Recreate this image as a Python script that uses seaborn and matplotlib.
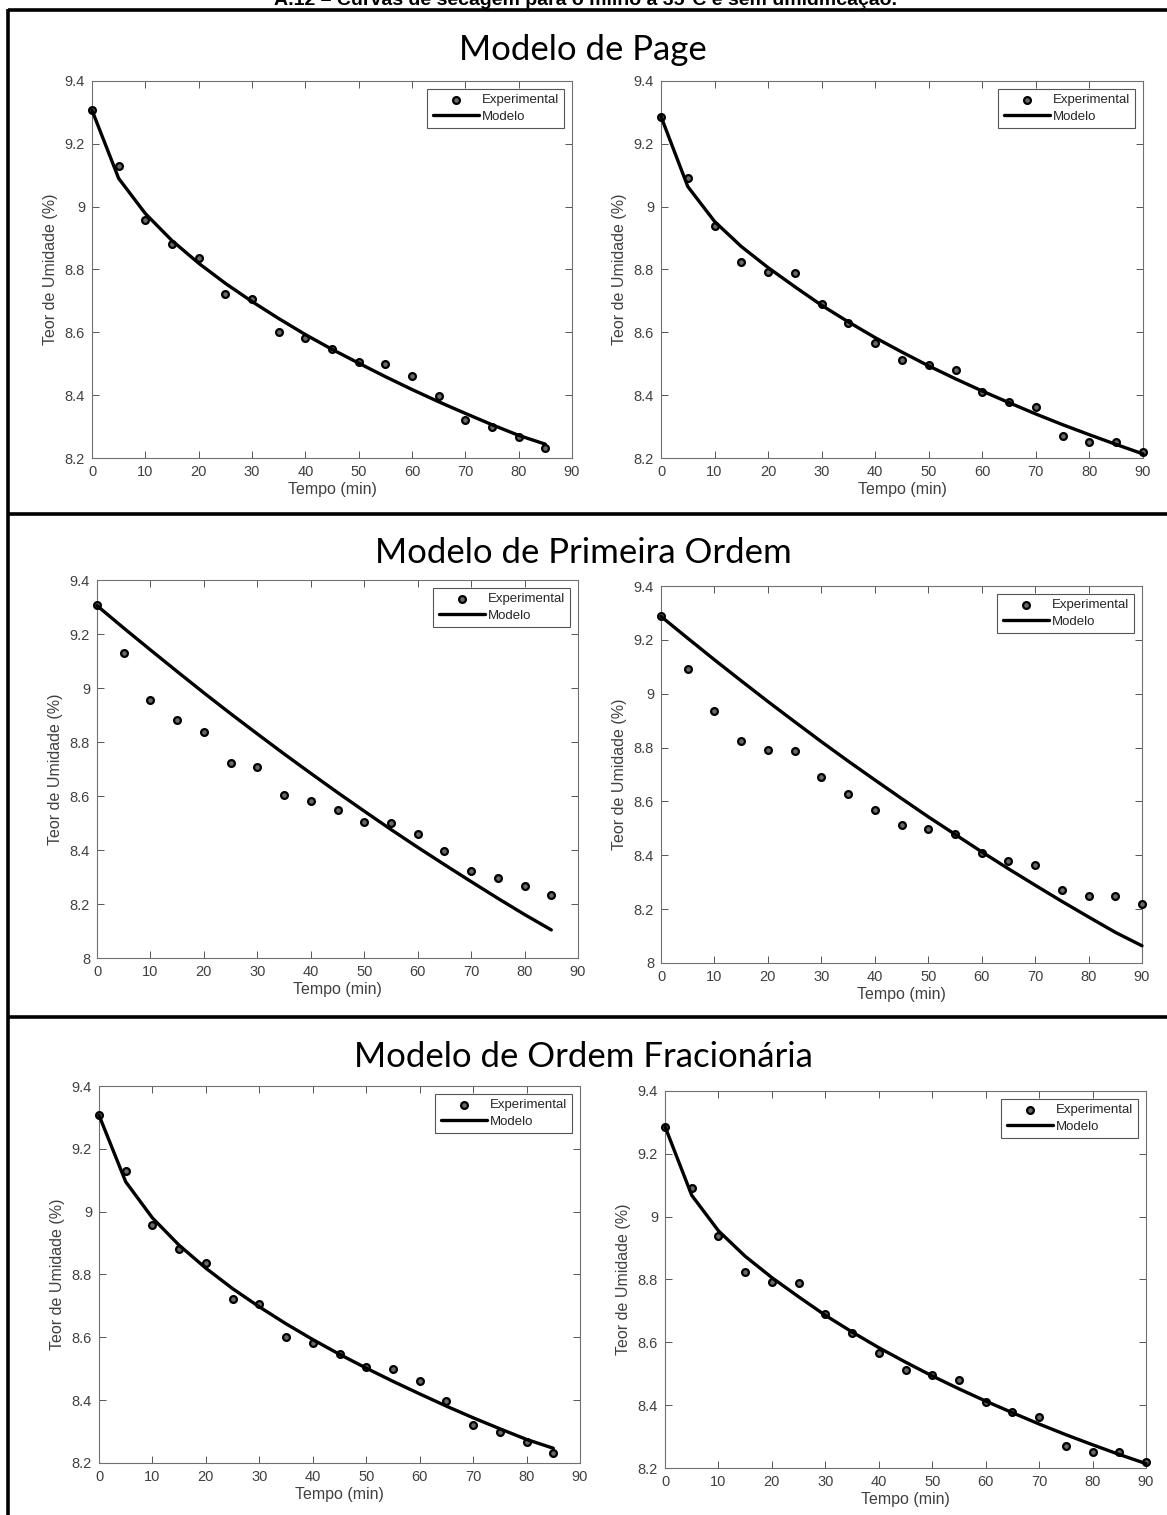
import numpy as np
import pandas as pd
import matplotlib
matplotlib.use("Agg")
import matplotlib.pyplot as plt
from matplotlib.lines import Line2D
from matplotlib.ticker import FuncFormatter
import seaborn as sns

# ---------------- data ----------------
tempo_esq = [0, 5, 10, 15, 20, 25, 30, 35, 40, 45, 50, 55, 60, 65, 70, 75, 80, 85]
tempo_dir = [0, 5, 10, 15, 20, 25, 30, 35, 40, 45, 50, 55, 60, 65, 70, 75, 80, 85, 90]

exp_esq = [9.307, 9.129, 8.956, 8.882, 8.837, 8.723, 8.707, 8.602, 8.583, 8.548,
           8.505, 8.500, 8.460, 8.396, 8.321, 8.298, 8.268, 8.233]
exp_dir = [9.287, 9.091, 8.937, 8.825, 8.791, 8.789, 8.689, 8.629, 8.567, 8.511,
           8.497, 8.479, 8.409, 8.378, 8.363, 8.271, 8.250, 8.250, 8.218]

page_esq = [9.307, 9.090, 8.978, 8.892, 8.820, 8.756, 8.698, 8.644, 8.593, 8.546,
            8.502, 8.459, 8.418, 8.379, 8.342, 8.306, 8.272, 8.244]
page_dir = [9.287, 9.064, 8.953, 8.873, 8.806, 8.745, 8.686, 8.633, 8.583, 8.537,
            8.493, 8.452, 8.413, 8.376, 8.340, 8.306, 8.274, 8.243, 8.213]

prim_esq = [9.305, 9.222, 9.141, 9.061, 8.982, 8.905, 8.830, 8.756, 8.684, 8.613,
            8.544, 8.476, 8.410, 8.346, 8.283, 8.221, 8.161, 8.104]
prim_dir = [9.287, 9.206, 9.126, 9.048, 8.971, 8.896, 8.822, 8.750, 8.680, 8.611,
            8.543, 8.478, 8.413, 8.350, 8.289, 8.229, 8.171, 8.114, 8.064]

frac_esq = [9.307, 9.095, 8.980, 8.893, 8.820, 8.755, 8.697, 8.643, 8.593, 8.546,
            8.502, 8.460, 8.420, 8.381, 8.344, 8.309, 8.275, 8.247]
frac_dir = [9.287, 9.068, 8.955, 8.874, 8.806, 8.745, 8.686, 8.633, 8.583, 8.537,
            8.493, 8.452, 8.413, 8.376, 8.340, 8.306, 8.274, 8.243, 8.214]

titulo = "A.12 \u2013 Curvas de secagem para o milho a 35\u00b0C e sem umidifica\u00e7\u00e3o."
secoes = ["Modelo de Page", "Modelo de Primeira Ordem", "Modelo de Ordem Fracion\u00e1ria"]
x_ticks = [0, 10, 20, 30, 40, 50, 60, 70, 80, 90]
xlabel = "Tempo (min)"
ylabel = "Teor de Umidade (%)"
leg_labels = ["Experimental", "Modelo"]

# ---------------- style ----------------
sns.set_theme(style="ticks")
plt.rcParams["font.family"] = ["Liberation Sans", "DejaVu Sans"]

W, H = 1167, 1515
fig = plt.figure(figsize=(W / 100, H / 100), dpi=100)
fig.patch.set_facecolor("white")

def add_ax(left, top, right, bottom):
    return fig.add_axes([left / W, 1 - bottom / H, (right - left) / W, (bottom - top) / H])

paineis = [
    ((92, 81, 572, 458), tempo_esq, exp_esq, page_esq, (8.2, 9.4)),
    ((661, 81, 1143, 458), tempo_dir, exp_dir, page_dir, (8.2, 9.4)),
    ((97, 580, 578, 958), tempo_esq, exp_esq, prim_esq, (8.0, 9.4)),
    ((661, 586, 1142, 963), tempo_dir, exp_dir, prim_dir, (8.0, 9.4)),
    ((99, 1086, 580, 1463), tempo_esq, exp_esq, frac_esq, (8.2, 9.4)),
    ((665, 1091, 1146, 1468), tempo_dir, exp_dir, frac_dir, (8.2, 9.4)),
]

fmt = FuncFormatter(lambda v, p: f"{v:g}")
txt_col = "#404040"

for box, t, ye, ym, ylim in paineis:
    ax = add_ax(*box)
    df_e = pd.DataFrame({"t": t, "y": ye})
    df_m = pd.DataFrame({"t": t, "y": ym})
    sns.scatterplot(data=df_e, x="t", y="y", ax=ax, marker="o", s=24,
                    color="#6a6a6a", edgecolor="black", linewidth=1.6,
                    label=leg_labels[0], zorder=3, clip_on=False)
    sns.lineplot(data=df_m, x="t", y="y", ax=ax, color="black", linewidth=2.4,
                 label=leg_labels[1], zorder=4, clip_on=False)
    ax.set_xlim(0, 90)
    ax.set_ylim(*ylim)
    ax.set_xticks(x_ticks)
    yt = np.round(np.arange(ylim[0], ylim[1] + 0.001, 0.2), 1)
    ax.set_yticks(yt)
    ax.yaxis.set_major_formatter(fmt)
    ax.xaxis.set_major_formatter(fmt)
    ax.tick_params(direction="in", top=True, right=True, length=5, width=0.7,
                   color="#555555", labelsize=10.5, labelcolor=txt_col, pad=5)
    for s in ax.spines.values():
        s.set_visible(True)
        s.set_color("#707070")
        s.set_linewidth(0.8)
    ax.set_xlabel(xlabel, fontsize=11.5, color=txt_col, labelpad=2)
    ax.set_ylabel(ylabel, fontsize=11.5, color=txt_col, labelpad=5)
    h, l = ax.get_legend_handles_labels()
    order = [l.index(leg_labels[0]), l.index(leg_labels[1])]
    leg = ax.legend([h[i] for i in order], [l[i] for i in order], loc="upper right",
                    fontsize=9.5, frameon=True, fancybox=False, framealpha=1,
                    edgecolor="#555555", borderaxespad=0.6, handlelength=3.5,
                    handletextpad=0.2, borderpad=0.4, labelspacing=0.3)
    leg.get_frame().set_linewidth(0.8)
    ax.set_facecolor("white")
    ax.grid(False)

# section titles
for txt, yc in zip(secoes, [50, 553, 1057]):
    fig.text(583 / W, 1 - yc / H, txt, ha="center", va="center", fontsize=25,
             family=["Lato", "DejaVu Sans"], color="black")

# top title (cut at the top edge, as in the reference)
fig.text(585 / W, 1 - 5 / H, titulo, ha="center", va="baseline", fontsize=14,
         fontweight="bold", color="black")

# frame lines
lw = 2.6
for y in [10, 514, 1017]:
    fig.add_artist(Line2D([8 / W, 1.0], [1 - y / H, 1 - y / H], transform=fig.transFigure,
                          color="black", linewidth=lw, solid_capstyle="butt"))
fig.add_artist(Line2D([8 / W, 8 / W], [1 - 9 / H, 0], transform=fig.transFigure,
                      color="black", linewidth=lw, solid_capstyle="butt"))

fig.savefig("out.png", dpi=100, facecolor="white")
